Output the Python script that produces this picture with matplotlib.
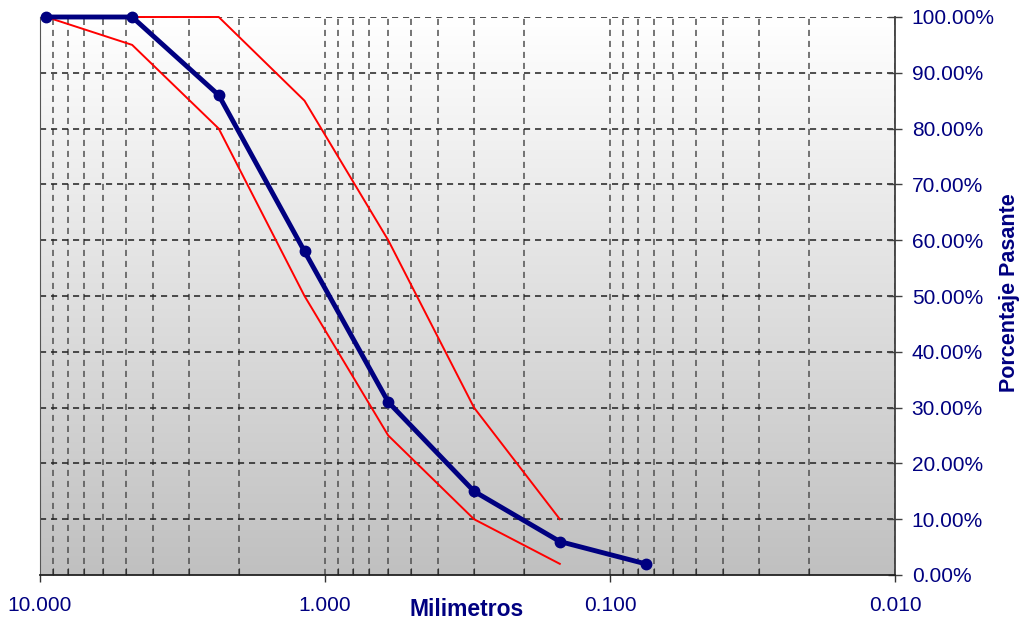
import numpy as np
import matplotlib
matplotlib.use("Agg")
import matplotlib.pyplot as plt
from matplotlib.ticker import FixedLocator, LogLocator, NullFormatter

plt.rcParams['font.family'] = ['Liberation Sans', 'DejaVu Sans']

sizes_mm = [9.5, 4.75, 2.36, 1.18, 0.6, 0.3, 0.15, 0.075]
passing = [100, 100, 86, 58, 31, 15, 6, 2]
lower_sizes = [9.5, 4.75, 2.36, 1.18, 0.6, 0.3, 0.15]
lower_limit = [100, 95, 80, 50, 25, 10, 2]
upper_sizes = [9.5, 4.75, 2.36, 1.18, 0.6, 0.3, 0.15]
upper_limit = [100, 100, 100, 85, 60, 30, 10]
x_ticks = [10, 1, 0.1, 0.01]
x_ticklabels = ["10.000", "1.000", "0.100", "0.010"]
y_ticks = list(range(0, 101, 10))
y_ticklabels = [f"{v:.2f}%" for v in y_ticks]

navy = "#000080"
fig = plt.figure(figsize=(10.24, 6.26), dpi=100)
ax = fig.add_axes([40/1024, 51/626, 855/1024, 558/626])

# gradient background
grad = np.linspace(0, 1, 256).reshape(-1, 1)
ax.imshow(grad, extent=[0, 1, 0, 1], transform=ax.transAxes, aspect='auto',
          cmap=matplotlib.colors.LinearSegmentedColormap.from_list('g', ['#ffffff', '#c0c0c0']),
          origin='upper', zorder=0)

ax.set_xscale('log')
ax.set_xlim(10, 0.01)
ax.set_ylim(0, 100)

dash = (0, (4, 3.2))
# grid
for d in [10, 1, 0.1]:
    for m in range(2, 10):
        ax.axvline(d * m / 10, color='#505050', lw=1.1, ls=dash, zorder=1)
for v in x_ticks:
    ax.axvline(v, color='#505050', lw=1.1, ls=dash, zorder=1)
for v in y_ticks[1:]:
    ax.axhline(v, color='#202020', lw=1.1, ls=dash, zorder=1)

ax.plot(lower_sizes, lower_limit, color='#ff0000', lw=1.4, zorder=3, clip_on=False)
ax.plot(upper_sizes, upper_limit, color='#ff0000', lw=1.4, zorder=3, clip_on=False)
ax.plot(sizes_mm, passing, color=navy, lw=3.5, marker='o', ms=7.5, zorder=4, clip_on=False)

ax.yaxis.tick_right()
ax.set_yticks(y_ticks)
ax.set_yticklabels(y_ticklabels)
ax.tick_params(axis='y', which='both', direction='inout', length=10, width=1, color='#404040',
               labelcolor=navy, labelsize=15, pad=7)
ax.xaxis.set_major_locator(FixedLocator(x_ticks))
ax.set_xticklabels(x_ticklabels)
ax.xaxis.set_minor_locator(LogLocator(base=10, subs=np.arange(2, 10)))
ax.xaxis.set_minor_formatter(NullFormatter())
ax.tick_params(axis='x', which='major', direction='out', length=5, width=1, color='#333333',
               labelcolor=navy, labelsize=15, pad=10)
ax.tick_params(axis='x', which='minor', direction='in', length=5, width=0.8, color='#333333')

ax.spines['top'].set_visible(False)
ax.spines['left'].set_color('#555555')
ax.spines['right'].set_color('#404040')
ax.spines['right'].set_linewidth(1.3)
ax.spines['bottom'].set_color('#222222')
ax.spines['bottom'].set_linewidth(1.3)

fig.text(467/1024, 1 - 609/626, "Milimetros", color=navy, fontsize=16.5, fontweight='bold',
         ha='center', va='center')
fig.text(1010/1024, 1 - 293/626, "Porcentaje Pasante", color=navy, fontsize=15.5, fontweight='bold',
         ha='center', va='center', rotation=90)

fig.savefig("out.png", dpi=100)
